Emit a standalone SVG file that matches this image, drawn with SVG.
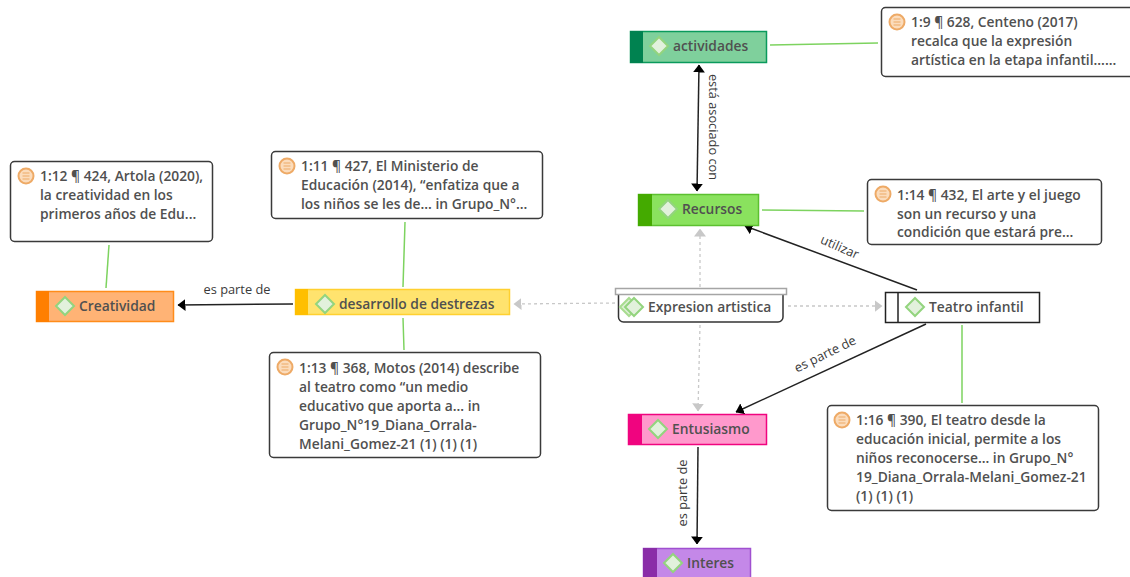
<svg xmlns="http://www.w3.org/2000/svg" width="1130" height="577" viewBox="0 0 1130 577">
<style>
text{font-family:"Open Sans","Noto Sans","Liberation Sans",sans-serif;fill:#505050}
.t{font-size:13.800px;font-weight:600}
.m{font-size:13.800px;font-weight:600}
.l{font-size:12.800px;fill:#3a3a3a}
.memo{fill:#fff;stroke:#3a3a3a;stroke-width:1.500}
.d{fill:#e2f1dc;stroke:#93d47e;stroke-width:2}
.ic{fill:#fbdcbc;stroke:#eeaa66;stroke-width:2}
.icl{stroke:#eeaa66;stroke-width:1.200;fill:none}
.g{stroke:#7dd35f;stroke-width:1.500;fill:none}
.k{stroke:#222;stroke-width:1.500;fill:none}
.dash{stroke:#c8c8c8;stroke-width:1.300;stroke-dasharray:3 3;fill:none}
.n{stroke-width:1.500}
</style>
<defs>
<marker id="a" viewBox="0 0 8 12" refX="7.500" refY="6" markerWidth="8" markerHeight="12" markerUnits="userSpaceOnUse" orient="auto-start-reverse"><path d="M0 0L8 6L0 12z" fill="#000"/></marker>
<marker id="b" viewBox="0 0 8 12" refX="7.500" refY="6" markerWidth="8" markerHeight="12" markerUnits="userSpaceOnUse" orient="auto"><path d="M0 0L8 6L0 12z" fill="#c8c8c8"/></marker>
<g id="memoicon"><circle cx="0" cy="0" r="7.500" class="ic"/><path class="icl" d="M-3.500 -3H3.500M-3.500 0H3.500M-3.500 3H3.500"/></g>
<path id="dm" d="M0 -9L9 0L0 9L-9 0z" class="d"/>
</defs>
<g id="connectors">
<path class="g" d="M770 45L878 43"/>
<path class="g" d="M762 210L864 211"/>
<path class="g" d="M109 245L106 288"/>
<path class="g" d="M405 222L403 287"/>
<path class="g" d="M403 318L404 350"/>
<path class="g" d="M962 325V403"/>
<path class="k" d="M699 65L697 191" marker-start="url(#a)" marker-end="url(#a)"/>
<path class="k" d="M917 290L745 226" marker-end="url(#a)"/>
<path class="k" d="M293 304L178 305" marker-end="url(#a)"/>
<path class="k" d="M926 324L736 412" marker-end="url(#a)"/>
<path class="k" d="M698 447L697 544" marker-end="url(#a)"/>
<path class="dash" d="M700 287V229" marker-end="url(#b)"/>
<path class="dash" d="M615 303L514 304" marker-end="url(#b)"/>
<path class="dash" d="M788 306H882" marker-end="url(#b)"/>
<path class="dash" d="M700 325L698 411" marker-end="url(#b)"/>
<text class="l" transform="translate(709 127) rotate(90)" text-anchor="middle">está asociado con</text>
<text class="l" transform="translate(838 251) rotate(24)" text-anchor="middle">utilizar</text>
<text class="l" x="237" y="294" text-anchor="middle">es parte de</text>
<text class="l" transform="translate(827 358) rotate(-26)" text-anchor="middle">es parte de</text>
<text class="l" transform="translate(687 493) rotate(-90)" text-anchor="middle">es parte de</text>
</g>
<g id="actividades"><rect class="n" x="630.500" y="31.500" width="136" height="31" fill="#7fd09c" stroke="#0a9a5c"/><rect x="630" y="31" width="13" height="32" fill="#008250"/><use href="#dm" x="659" y="46"/><text class="t" x="673" y="51">actividades</text></g>
<g id="recursos"><rect class="n" x="638.500" y="194.500" width="120" height="31" fill="#8ae25e" stroke="#5cc030"/><rect x="638" y="194" width="14" height="32" fill="#44aa00"/><use href="#dm" x="668" y="209"/><text class="t" x="682" y="214">Recursos</text></g>
<g id="creatividad"><rect class="n" x="36.500" y="291.500" width="137" height="30" fill="#ffb375" stroke="#ff8c1a"/><rect x="36" y="291" width="13" height="31" fill="#ff7f00"/><use href="#dm" x="65" y="306"/><text class="t" x="79" y="311">Creatividad</text></g>
<g id="desarrollo"><rect class="n" x="295.500" y="289.500" width="214" height="25" fill="#ffe36e" stroke="#ffd030"/><rect x="295" y="289" width="13" height="26" fill="#ffbf00"/><use href="#dm" x="325" y="304"/><text class="t" x="339" y="309">desarrollo de destrezas</text></g>
<g id="expresion"><path d="M618.500 294V317a5 5 0 0 0 5 5H778a5 5 0 0 0 5-5V294" fill="#fff" stroke="#333" stroke-width="1.500"/><rect x="615.500" y="288.500" width="171" height="6" fill="#fff" stroke="#a5a5a5" stroke-width="1.500"/><path d="M629 298L638 307L629 316L620 307z" fill="#dcefd4" stroke="#a8dc90" stroke-width="2"/><use href="#dm" x="634" y="307"/><text class="t" x="648" y="312">Expresion artistica</text></g>
<g id="teatro"><rect x="885.500" y="292.500" width="154" height="30" fill="#fff" stroke="#222" stroke-width="1.500"/><path d="M898 292V322" stroke="#222" stroke-width="1.500"/><use href="#dm" x="915" y="307"/><text class="t" x="929" y="312">Teatro infantil</text></g>
<g id="entusiasmo"><rect class="n" x="628.500" y="414.500" width="138" height="30" fill="#ff99cc" stroke="#f0047f"/><rect x="628" y="414" width="14" height="31" fill="#f0047f"/><use href="#dm" x="658" y="429"/><text class="t" x="672" y="434">Entusiasmo</text></g>
<g id="interes"><path class="n" d="M643.500 577V548.500H750.500V577" fill="#c488e8" stroke="#a050d0"/><rect x="643" y="548" width="14" height="29" fill="#8a2da8"/><use href="#dm" x="673" y="563"/><text class="t" x="687" y="568">Interes</text></g>
<g id="memo9"><rect class="memo" x="881.500" y="7.500" width="260" height="69" rx="4"/><use href="#memoicon" x="897" y="22"/><text class="m"><tspan x="911" y="27">1:9 ¶ 628, Centeno (2017)</tspan><tspan x="911" y="46">recalca que la expresión</tspan><tspan x="911" y="65">artística en la etapa infantil......</tspan></text></g>
<g id="memo14"><rect class="memo" x="867.500" y="179.500" width="234" height="65" rx="4"/><use href="#memoicon" x="883" y="194"/><text class="m"><tspan x="897" y="200">1:14 ¶ 432, El arte y el juego</tspan><tspan x="897" y="219">son un recurso y una</tspan><tspan x="897" y="237">condición que estará pre...</tspan></text></g>
<g id="memo12"><rect class="memo" x="10.500" y="161.500" width="202" height="80" rx="4"/><use href="#memoicon" x="26" y="176"/><text class="m"><tspan x="40" y="181">1:12 ¶ 424, Artola (2020),</tspan><tspan x="40" y="200">la creatividad en los</tspan><tspan x="40" y="219">primeros años de Edu...</tspan></text></g>
<g id="memo11"><rect class="memo" x="271.500" y="151.500" width="271" height="67" rx="4"/><use href="#memoicon" x="287" y="166"/><text class="m"><tspan x="301" y="171">1:11 ¶ 427, El Ministerio de</tspan><tspan x="301" y="190">Educación (2014), “enfatiza que a</tspan><tspan x="301" y="209">los niños se les de... in Grupo_N°...</tspan></text></g>
<g id="memo13"><rect class="memo" x="269.500" y="352.500" width="271" height="105" rx="4"/><use href="#memoicon" x="285" y="367"/><text class="m"><tspan x="299" y="373">1:13 ¶ 368, Motos (2014) describe</tspan><tspan x="299" y="392">al teatro como “un medio</tspan><tspan x="299" y="411">educativo que aporta a... in</tspan><tspan x="299" y="430">Grupo_N°19_Diana_Orrala-</tspan><tspan x="299" y="449">Melani_Gomez-21 (1) (1) (1)</tspan></text></g>
<g id="memo16"><rect class="memo" x="827.500" y="405.500" width="271" height="105" rx="4"/><use href="#memoicon" x="842" y="420"/><text class="m"><tspan x="856" y="425">1:16 ¶ 390, El teatro desde la</tspan><tspan x="856" y="444">educación inicial, permite a los</tspan><tspan x="856" y="463">niños reconocerse... in Grupo_N°</tspan><tspan x="856" y="482">19_Diana_Orrala-Melani_Gomez-21</tspan><tspan x="856" y="501">(1) (1) (1)</tspan></text></g>
</svg>
